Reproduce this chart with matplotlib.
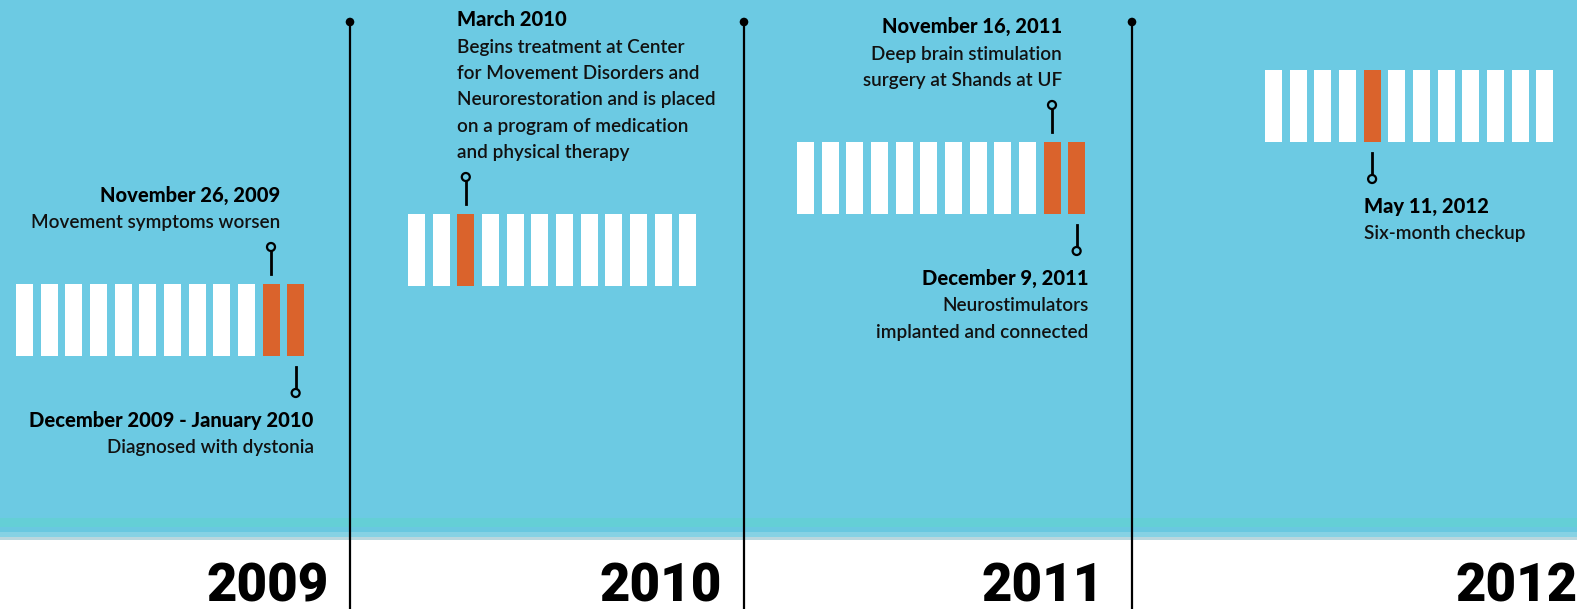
import matplotlib
matplotlib.use("Agg")
import matplotlib.pyplot as plt
from matplotlib.patches import Circle, Rectangle

# ---------------- data ----------------
years = [2009, 2010, 2011, 2012]
month_count = 12
highlight_2009 = [10, 11]
highlight_2010 = [2]
highlight_2011 = [10, 11]
highlight_2012 = [4]
highlights = [highlight_2009, highlight_2010, highlight_2011, highlight_2012]

event_years = [2009, 2009, 2010, 2011, 2011, 2012]
event_months = [10, 11, 2, 10, 11, 4]
event_titles = ["November 26, 2009", "December 2009 - January 2010", "March 2010",
                "November 16, 2011", "December 9, 2011", "May 11, 2012"]
event_texts = [
    ["Movement symptoms worsen"],
    ["Diagnosed with dystonia"],
    ["Begins treatment at Center", "for Movement Disorders and",
     "Neurorestoration and is placed", "on a program of medication",
     "and physical therapy"],
    ["Deep brain stimulation", "surgery at Shands at UF"],
    ["Neurostimulators", "implanted and connected"],
    ["Six-month checkup"],
]
event_sides = ["above", "below", "above", "above", "below", "below"]

# ---------------- layout / style ----------------
W, H = 1577, 609
BG = "#6ccae3"
ORANGE = "#da632c"
block_left = [16, 408, 797, 1265]
block_top = [284, 214, 142, 70]
bar_w, bar_h, pitch = 17, 72, 24.65
divider_x = [350, 744, 1132]
year_right = [329, 722, 1104, 1578]
event_dx = [9, 18, -9, 10, 12, -8]
event_ha = ["right", "right", "left", "right", "right", "left"]
line_pitch = 26.3

TXT = ["Lato", "DejaVu Sans"]
YEARFONT = ["Roboto", "Lato", "DejaVu Sans"]

fig = plt.figure(figsize=(W / 100, H / 100), dpi=100)
ax = fig.add_axes([0, 0, 1, 1])
ax.set_xlim(0, W)
ax.set_ylim(H, 0)
ax.axis("off")
fig.patch.set_facecolor("white")

# background bands
bands = [(0, 518, BG), (518, 527, "#64cfd6"), (527, 532, "#69c8e0"),
         (532, 537, "#86d2e4"), (537, 540, "#b9d7de")]
for y0, y1, c in bands:
    ax.add_patch(Rectangle((0, y0), W, y1 - y0, facecolor=c, edgecolor="none", zorder=0))

# bars
centers_all = []
for i, yr in enumerate(years):
    xs = [block_left[i] + bar_w / 2 + m * pitch for m in range(month_count)]
    cols = [ORANGE if m in highlights[i] else "white" for m in range(month_count)]
    ax.bar(xs, [bar_h] * month_count, bottom=block_top[i], width=bar_w,
           color=cols, edgecolor="none", zorder=2)
    centers_all.append(xs)

# divider lines
for x in divider_x:
    ax.plot([x, x], [22, H + 5], color="black", lw=1.6, zorder=3, solid_capstyle="butt")
    ax.add_patch(Circle((x, 22), 4.3, facecolor="black", edgecolor="none", zorder=4))

# years
for i, yr in enumerate(years):
    ax.text(year_right[i], 601, str(yr), ha="right", va="baseline",
            fontsize=38, fontweight="black",
            family=YEARFONT, color="black", zorder=5)

# events
for k in range(len(event_years)):
    bi = years.index(event_years[k])
    px = centers_all[bi][event_months[k]]
    top = block_top[bi]
    bot = top + bar_h
    lines = [event_titles[k]] + event_texts[k]
    if event_sides[k] == "above":
        cy = top - 37
        ax.plot([px, px], [top - 10, cy + 4], color="black", lw=2, zorder=3)
        last_base = cy - 19
        bases = [last_base - line_pitch * (len(lines) - 1 - j) for j in range(len(lines))]
    else:
        cy = bot + 37
        ax.plot([px, px], [bot + 11, cy - 4], color="black", lw=2, zorder=3)
        first_base = cy + 34
        bases = [first_base + line_pitch * j for j in range(len(lines))]
    ax.add_patch(Circle((px, cy), 4, facecolor=BG, edgecolor="black", lw=1.6, zorder=4))
    tx = px + event_dx[k]
    for j, (s, b) in enumerate(zip(lines, bases)):
        if j == 0:
            ax.text(tx, b, s, ha=event_ha[k], va="baseline", fontsize=14.5,
                    fontweight="black", family=TXT, color="black", zorder=5)
        else:
            ax.text(tx, b, s, ha=event_ha[k], va="baseline", fontsize=13.6,
                    fontweight="semibold", family=TXT, color="#111111", zorder=5)

fig.savefig("out.png", dpi=100, facecolor="white")
